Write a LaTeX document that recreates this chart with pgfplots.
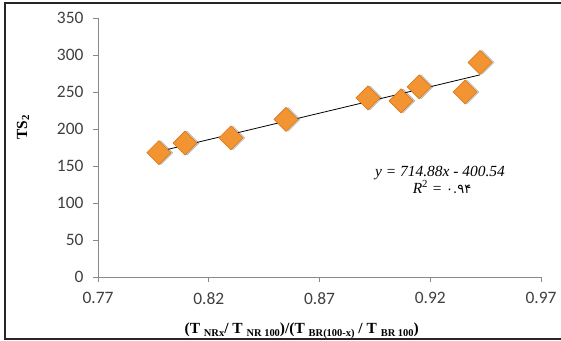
\documentclass[border=0pt]{standalone}
\usepackage{pgfplots}
\pgfplotsset{compat=1.18}
\usepackage{fontspec}
\setmainfont{Liberation Serif}
\newfontfamily\calibri{Carlito}
\newfontfamily\arabicfont[Script=Arabic]{DejaVu Sans}
\definecolor{axgray}{HTML}{898989}
\definecolor{ticktext}{HTML}{404040}
\definecolor{mkfill}{HTML}{F39432}
\definecolor{mkedge}{HTML}{D9761A}
\newcommand\sub[1]{\raisebox{-3bp}{\fontsize{10.5}{10.5}\selectfont\bfseries #1}}
\begin{document}
\begin{tikzpicture}
\useasboundingbox (-98bp,-64bp) rectangle (463bp,277bp);
\draw[line width=1.2bp, color=black!85] (464bp,274bp) -- (-93bp,274bp) -- (-93bp,-62bp) -- (464bp,-62bp);
\begin{axis}[
  scale only axis,
  width=443bp, height=259bp,
  xmin=0.77, xmax=0.97, ymin=0, ymax=350,
  axis lines*=left,
  axis line style={axgray, line width=0.8bp},
  xtick={0.77,0.82,0.87,0.92,0.97},
  ytick={0,50,100,150,200,250,300,350},
  tick align=outside,
  major tick length=5bp,
  tick style={axgray, line width=0.8bp},
  xticklabel style={/pgf/number format/.cd, fixed, fixed zerofill, precision=2, /tikz/.cd, yshift=-7bp},
  yticklabel style={xshift=-6bp},
  /pgf/number format/assume math mode=true,
  ticklabel style={font=\calibri\fontsize{17.5}{17.5}\selectfont, text=ticktext},
  clip=false,
]
\addplot[only marks, mark=square*, mark size=8.5bp,
  mark options={rotate=45, fill=black, draw=none, opacity=0.18, xshift=1.5bp, yshift=-1.5bp}]
  coordinates {(0.7975,168) (0.8093,181) (0.8300,188) (0.8549,213) (0.8919,242) (0.9068,238) (0.9150,257) (0.9357,250) (0.9425,290)};
\addplot[only marks, mark=square*, mark size=8.5bp,
  mark options={rotate=45, fill=mkfill, draw=mkedge, line width=0.6bp}]
  coordinates {(0.7975,168) (0.8093,181) (0.8300,188) (0.8549,213) (0.8919,242) (0.9068,238) (0.9150,257) (0.9357,250) (0.9425,290)};
\addplot[black, line width=0.8bp, no marks] coordinates {(0.7975,169.6) (0.9425,273.2)};
\end{axis}
\node[font=\bfseries\fontsize{15.5}{15.5}\selectfont, rotate=90] at (-75bp,150bp) {TS\textsubscript{2}};
\node[font=\bfseries\fontsize{15.5}{15.5}\selectfont] at (203.7bp,-54bp) {(T~\sub{NRx}/ T~\sub{NR 100})/(T~\sub{BR(100-x)} / T~\sub{BR 100})};
\node[font=\fontsize{15.5}{15.5}\selectfont\itshape] at (342bp,104bp) {y = 714.88x - 400.54};
\node[font=\fontsize{15.5}{15.5}\selectfont\itshape] at (344bp,90bp) {R\textsuperscript{\upshape 2} = {\upshape\arabicfont\fontsize{13}{13}\selectfont ۰.۹۴}};
\end{tikzpicture}
\end{document}
